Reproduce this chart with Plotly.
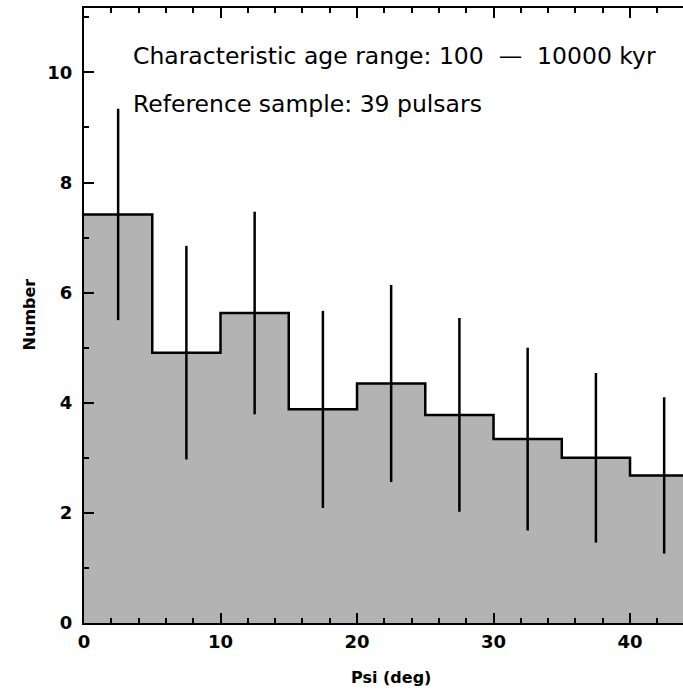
import plotly.graph_objects as go

# Data
bin_edges = [0, 5, 10, 15, 20, 25, 30, 35, 40, 45]
bin_centers = [2.5, 7.5, 12.5, 17.5, 22.5, 27.5, 32.5, 37.5, 42.5]
counts = [7.42, 4.91, 5.63, 3.88, 4.35, 3.78, 3.34, 3.00, 2.68]
errors = [1.92, 1.94, 1.84, 1.79, 1.79, 1.76, 1.66, 1.54, 1.42]
x_ticks = [0, 10, 20, 30, 40]
y_ticks = [0, 2, 4, 6, 8, 10]
label_lines = ["Characteristic age range: 100  \u2014  10000 kyr",
               "Reference sample: 39 pulsars"]
x_title = "Psi (deg)"
y_title = "Number"

step_y = counts + [counts[-1]]

fig = go.Figure()
fig.add_trace(go.Scatter(
    x=bin_edges, y=step_y, mode="lines", line_shape="hv",
    line=dict(color="black", width=2.5),
    fill="tozeroy", fillcolor="#b3b3b3", hoverinfo="skip", showlegend=False))
fig.add_trace(go.Scatter(
    x=bin_centers, y=counts, mode="markers",
    marker=dict(size=1, color="rgba(0,0,0,0)"),
    error_y=dict(type="data", array=errors, visible=True, width=0,
                 thickness=2.5, color="black"),
    showlegend=False))

tickfont = dict(family="DejaVu Sans", size=18, color="black", weight="bold")
fig.update_xaxes(
    range=[0, 43.88], tickvals=x_ticks, ticks="inside", ticklen=10, tickwidth=2,
    tickcolor="black", showline=True, linecolor="black", linewidth=2,
    mirror="ticks", showgrid=False, zeroline=False, automargin=False,
    minor=dict(dtick=2, ticks="inside", ticklen=5, tickwidth=2, tickcolor="black"),
    tickfont=tickfont, ticklabelstandoff=1)
fig.update_yaxes(
    range=[0, 11.17], tickvals=y_ticks, ticks="inside", ticklen=10, tickwidth=2,
    tickcolor="black", showline=True, linecolor="black", linewidth=2,
    showgrid=False, zeroline=False, automargin=False,
    minor=dict(dtick=1, ticks="inside", ticklen=5, tickwidth=2, tickcolor="black"),
    tickfont=tickfont, ticklabelstandoff=6)

fig.update_layout(
    width=683, height=692, margin=dict(l=84, r=0, t=8, b=69),
    plot_bgcolor="white", paper_bgcolor="white", showlegend=False,
    font=dict(family="DejaVu Sans", color="black"))

for i, txt in enumerate(label_lines):
    fig.add_annotation(x=3.44, y=10.29 - 0.86 * i, xref="x", yref="y", text=txt,
                       showarrow=False, xanchor="left", yanchor="middle",
                       font=dict(family="DejaVu Sans", size=23.5, color="black"))

fig.add_annotation(x=(390.5 - 84) / 599, y=-(677 - 622.7) / 615.2, xref="paper", yref="paper",
                   text=x_title, showarrow=False, xanchor="center", yanchor="middle",
                   font=dict(family="DejaVu Sans", size=16, color="black", weight="bold"))
fig.add_annotation(x=-(84 - 29) / 599, y=(622.7 - 314) / 615.2, xref="paper", yref="paper",
                   text=y_title, showarrow=False, textangle=-90,
                   xanchor="center", yanchor="middle",
                   font=dict(family="DejaVu Sans", size=16, color="black", weight="bold"))

fig.write_html("out.html", config={"displayModeBar": False},
               post_script="document.body.style.margin='0px';")
